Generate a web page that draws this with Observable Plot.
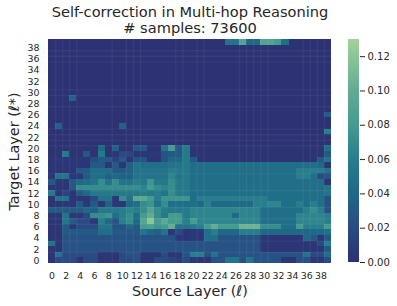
<!DOCTYPE html>
<html><head><meta charset="utf-8">
<script src="https://cdn.jsdelivr.net/npm/d3@7"></script>
<script src="https://cdn.jsdelivr.net/npm/@observablehq/plot@0.6"></script>
<style>
html,body{margin:0;padding:0;background:#fff;width:397px;height:306px;overflow:hidden}
#wrap{position:relative;width:397px;height:306px}
#wrap svg{position:absolute;top:0;background:transparent}
</style></head><body><div id="wrap"></div>
<script>
// Values in percent (1 = 0.01), row index = target layer, column index = source layer
const r39=[.1,.1,.1,.1,.1,.1,.1,.1,.1,.1,.1,.1,.1,.1,.1,.1,.1,.1,.1,.1,.1,.1,.1,.1,.1,5,5,9,4,4,9,9,8,4.5,.1,.1,.1,.1,.1,.1];
const r38=[.1,.1,.1,.1,.1,.1,.1,.1,.1,.1,.1,.1,.1,.1,.1,.1,.1,.1,.1,.1,.1,.1,.1,.1,.1,.1,.1,.1,.1,.1,.1,.1,.1,.1,.1,.1,.1,.1,.1,.1];
const r37=r38,r36=r38,r35=r38,r34=r38,r33=r38,r32=r38,r31=r38,r30=r38,r28=r38,r27=r38,r25=r38,r22=r38;
const r29=[.1,.1,.1,3.5,.1,.1,.1,.1,.1,.1,.1,.1,.1,.1,.1,.1,.1,.1,.1,.1,.1,.1,.1,.1,.1,.1,.1,.1,.1,.1,.1,.1,.1,.1,.1,.1,.1,.1,.1,.1];
const r26=[.1,.1,.1,.1,.1,.1,.1,.1,.1,.1,.1,.1,.1,.1,.1,.1,.1,.1,.1,.1,.1,.1,.1,.1,.1,.1,.1,.1,.1,.1,.1,.1,.1,.1,.1,.1,.1,.1,.1,3.2];
const r24=[.1,3.5,.1,.1,.1,.1,.1,.1,.1,.1,3.5,.1,.1,.1,.1,.1,.1,.1,.1,.1,.1,.1,.1,.1,.1,.1,.1,.1,.1,.1,.1,.1,.1,.1,.1,.1,.1,.1,.1,.1];
const r23=[.1,.1,.1,.1,.1,.1,.1,.1,.1,.1,.1,.1,.1,.1,.1,.1,.1,.1,.1,.1,.1,.1,.1,.1,.1,.1,.1,.1,.1,.1,.1,.1,.1,.1,.1,.1,.1,.1,.1,6];
const r21=r22;
const r20=[.2,.2,.2,.2,.2,.2,.2,4,.2,3.5,.2,.2,3,3,.2,.2,5,8,3,5.5,.2,.2,.2,.2,.2,.2,.2,.2,.2,.2,.2,.2,.2,.2,.2,.2,.2,.2,.2,4.5];
const r19=[.2,.2,5.5,.2,.2,3,.2,5.5,.2,.5,2,1.5,.5,.5,.5,.5,2.5,3,3,5.5,.2,.2,.2,.2,.2,.2,.2,.2,.2,.2,.2,.2,.2,.2,.2,.2,.2,.2,.2,3];
const r18=[.5,.5,.5,.5,.5,.5,2,3,3,1.5,3,.5,2.5,2.5,.3,.3,2.5,4,4,5.5,3,.2,.2,.2,.2,.2,.2,.2,.2,.2,.2,.2,.2,.2,.2,.2,.2,.2,3,5];
const r17=[.3,.3,.3,.3,.3,.3,3,3,.5,3,.3,3.5,5,4.5,4.5,4.5,4.5,5,5,5.5,4.5,4.5,4.5,4.5,4.5,4.5,4.5,4.5,4.5,4.5,4.5,4.5,4.5,4.5,4.5,4.5,4.5,4.5,4,.3];
const r16=[.3,.3,.3,.3,3,3,4.5,4.5,4.5,3,3,3.5,5,5,5,5,5,6,5.5,5.5,4.5,4.5,4.5,4.5,4.5,4.5,4.5,4.5,4.5,4.5,4.5,4.5,4.5,4.5,4.5,6,6,6,6,5];
const r15=[.3,5,5,.5,.5,3,4.5,4.5,3.5,4,3.5,3.5,5,5,5,5,5,6.5,5,5.5,4.5,4.5,4.5,4.5,4.5,4.5,4.5,4.5,4.5,4.5,4.5,4.5,4.5,4.5,4.5,6,6,4.5,2,2.5];
const r14=[3,.5,.5,3,4,4.5,5,7,5,7,5,5,6,5.5,7.5,5.5,5.5,7,5.5,5.5,4.5,4.5,4.5,4.5,4.5,4.5,4.5,4.5,4.5,4.5,4.5,4.5,4.5,4.5,4.5,4.5,4.5,4.5,4.5,.3];
const r13=[.3,.3,.3,3,7,7,7,7,7,7,7,7,7,6.5,8,7,6.5,7,5.5,5.5,4.5,4.5,4.5,4.5,4.5,4.5,4.5,4.5,4.5,4.5,4.5,4.5,4.5,4.5,4.5,4.5,4.5,4.5,4.5,5];
const r12=[5.5,.3,1.5,.3,3,4,5.5,5.5,5.5,5.5,5.5,5.5,5.5,6,5.5,6,5,7,5.5,5.5,4.5,4.5,4.5,4.5,4.5,4.5,4.5,4.5,4.5,4.5,4.5,4.5,4.5,4.5,4.5,4.5,4.5,4.5,4.5,5];
const r11=[.3,5,5,.3,.3,.5,2,5,5,.5,7,5,9.5,9.5,8,6,7.5,7.5,7.5,7.5,4.5,6,6,6,6,6,6,6,6,6,6,4.5,4.5,4.5,4.5,4.5,4.5,4.5,4.5,2.5];
const r10=[.3,.3,.5,.3,3,.5,3,.5,3.5,.5,.5,4,4.5,7,7.5,5,7,4.5,4.5,4.5,4.5,4,6,4.2,4.2,4.2,4.2,4.2,4.2,6,6,6.5,6.5,4.5,4.5,6,4.5,6,4.5,2.5];
const r9=[3,3,3,3,3,4,3.5,5.5,5.5,5.5,6,6.5,6,7,9,7,6,5.5,5.5,5.5,6.5,6.5,6.5,6.5,6.5,6.5,6.5,6.5,6.5,6.5,4.5,4.5,4.5,4.5,4.5,4.5,6,7,6,2.5];
const r8=[.3,.3,5,.5,.5,2,7,7,7.5,4.5,6,7,4.5,8,10,7,5.5,8,8,5.5,6.5,6.5,6.5,6.5,6.5,6.5,4.2,6.5,6.5,6.5,4.5,4.5,4.5,4.5,4.5,6.5,6.5,6.5,6.5,6];
const r7=[.3,.3,5,3,2,2,.5,6,4,2.5,6,7,4,9,12,8,9.5,8,8,6,8,6.5,6.5,6.5,6.5,6.5,6.5,6.5,6.5,6.5,4.5,4.5,4.5,4.5,4.5,6.5,6.5,6.5,6.5,6];
const r6=[.3,.3,3,.5,2,2,2,5,5,2.5,2.5,4,3,8,8.5,7.5,8,10,5,5,5.5,6,8,10,8,8,8,10.5,10.5,10.5,7,7,7,4.5,4.5,8,6,6,6,8];
const r5=[.3,.3,3,3,3,3,3,4.5,4.5,3,3,3,3,5,4,3.5,5,.5,2,.3,.5,.5,4.5,6,4,4,4,6,6,6,4,4,4,4,4,4,4,4,4,4.5];
const r4=[.3,.3,2.5,2.5,2.5,2.5,2.5,2.5,2.5,2.5,2.5,2.5,2.5,2.5,2.5,2.5,2.5,2.5,.5,.3,.5,.5,4.5,4.5,2.5,2.5,2.5,2.5,2.5,2.5,.3,.3,.3,.3,.3,.3,4,3,.5,3];
const r3=[5,.3,2.5,2.5,2.5,2.5,2.5,2.5,2.5,2.5,2.5,2.5,2.5,2.5,2.5,2.5,2.5,2.5,2.5,2.5,2.5,2.5,2.5,2.5,2.5,2.5,2.5,2.5,2.5,2.5,.3,.3,.3,.3,.3,.3,.3,.3,2,6];
const r2=[.3,.3,2.5,2.5,2.5,2.5,2.5,2.5,2.5,2.5,2.5,2.5,2.5,2.5,2.5,2.5,2.5,2.5,2.5,2.5,2.5,2.5,2.5,2.5,2.5,2.5,2.5,2.5,2.5,2.5,.3,.3,.3,.3,.3,.3,.3,.3,.3,3];
const r1=[.3,5,2,2,2,2,2,.3,.3,.3,2,2.5,2.5,.3,.3,.3,2,.3,.3,2.5,6,6,2.5,5,2.5,2.5,2.5,2.5,2.5,2.5,2.5,2.5,2.5,2.5,2.5,2.5,5,2,2,4.5];
const r0=[.3,2,2,2,.3,2,2,.3,.3,.3,2,2,2.5,.3,.3,2,2,1.5,.8,2,.5,.5,.5,2.5,2.5,5,5,2.5,5,2.5,2.5,2.5,2.5,.5,.5,2.5,2.5,.5,.5,2];
const rows=[r0,r1,r2,r3,r4,r5,r6,r7,r8,r9,r10,r11,r12,r13,r14,r15,r16,r17,r18,r19,r20,r21,r22,r23,r24,r25,r26,r27,r28,r29,r30,r31,r32,r33,r34,r35,r36,r37,r38,r39];

const layerTicks=[0,2,4,6,8,10,12,14,16,18,20,22,24,26,28,30,32,34,36,38];
const seamsX=[1,2,3,4,9,11,12,13,18,19,21,22,27,28,29,30,31,36,37,38,39];
const seamsY=[38,37,36,31,30,28,24,23,22,21,16,13,10,8,7,4,2];
const colorStops=[0,.02,.04,.06,.08,.10,.12,.13];
const colorRange=["#2c3172","#2a4a84","#1f6886","#287e8d","#459b8f","#63ac92","#8cc598","#a5d39a"];
const barTicks=[0,.02,.04,.06,.08,.10,.12];
const barSteps=d3.range(0,130).map(i=>i/1000);

const cells=rows.flatMap((row,t)=>row.map((v,s)=>({s,t,v:v/100})));
const colorOpt={type:"linear",domain:colorStops,range:colorRange,interpolate:"rgb",clamp:true};
const font="DejaVu Sans";

const chart=Plot.plot({
  width:397,height:306,marginLeft:48,marginRight:66,marginTop:39,marginBottom:43,
  style:{fontFamily:font,fontSize:"10px",color:"#262626",background:"transparent"},
  x:{domain:[0,40],label:null},y:{domain:[0,40],label:null},color:colorOpt,
  marks:[
    Plot.rect(cells,{x1:"s",x2:d=>d.s+1,y1:"t",y2:d=>d.t+1,fill:"v",shapeRendering:"crispEdges"}),
    Plot.ruleX(seamsX,{stroke:"#fff",strokeOpacity:.05,strokeWidth:1.4}),
    Plot.ruleY(seamsY,{stroke:"#fff",strokeOpacity:.05,strokeWidth:1.4}),
    Plot.axisX(layerTicks.map(d=>d+.5),{tickSize:0,tickPadding:9,tickFormat:d=>d-.5,fontSize:9.4,label:null}),
    Plot.axisY(layerTicks.map(d=>d+.5),{tickSize:0,tickPadding:9,tickFormat:d=>d-.5,fontSize:9.4,label:null}),
    Plot.text(["Self-correction in Multi-hop Reasoning"],{frameAnchor:"top",dy:-33,fontSize:14.6,fill:"#262626"}),
    Plot.text(["# samples: 73600"],{frameAnchor:"top",dy:-17,fontSize:14.6,fill:"#262626"}),
    Plot.text(["Source Layer (ℓ)"],{frameAnchor:"bottom",dy:32,fontSize:14.4,fill:"#262626"}),
    Plot.text(["Target Layer (ℓ*)"],{frameAnchor:"left",textAnchor:"middle",dx:-34,rotate:-90,fontSize:14.4,fill:"#262626"})
  ]
});
const bar=Plot.plot({
  width:57,height:306,marginLeft:8,marginRight:38,marginTop:39,marginBottom:44,
  style:{fontFamily:font,fontSize:"10px",color:"#262626",background:"transparent"},
  x:{axis:null},y:{domain:[0,.13],label:null},color:colorOpt,
  marks:[
    Plot.rect(barSteps,{y1:d=>d,y2:d=>d+.001,fill:d=>d,shapeRendering:"crispEdges"}),
    Plot.axisY(barTicks,{anchor:"right",tickSize:5,tickPadding:3,tickFormat:d3.format(".2f"),fontSize:10,label:null,stroke:"#262626"})
  ]
});
chart.style.left="0px";bar.style.left="340px";
document.getElementById("wrap").append(chart,bar);
</script></body></html>
